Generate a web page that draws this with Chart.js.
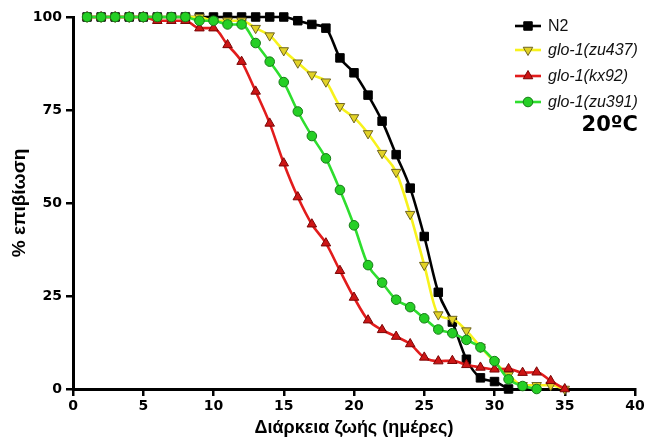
<!DOCTYPE html>
<html>
<head>
<meta charset="utf-8">
<script src="https://cdn.jsdelivr.net/npm/chart.js@4.4.1/dist/chart.umd.min.js"></script>
<style>
  html,body{margin:0;padding:0;background:#fff;}
  #wrap{width:647px;height:438px;position:relative;}
</style>
</head>
<body>
<div id="wrap"><canvas id="c" width="647" height="438"></canvas></div>
<script>
// ---- data (survival %, one value per day starting at day 1) ----
const seriesNames = ["N2", "glo-1(zu437)", "glo-1(kx92)", "glo-1(zu391)"];
const xTicks = [0, 5, 10, 15, 20, 25, 30, 35, 40];
const yTicks = [0, 25, 50, 75, 100];
const startDay = 1;
const n2 = [100,100,100,100,100,100,100,100,100,100,100,100,100,100,100,
            99,98,97,89,85,79,72,63,54,41,26,18,8,3,2,0];
const zu437 = [100,100,100,100,100,100,100,100,100,99,99,99,
               97,95,91,87.7,84.5,82.6,76,73,68.7,63.4,58.3,47,33.3,20,18.8,15.7,11.3,7.3,3.8,1,1,1,0];
const kx92 = [100,100,100,100,100,99,99,99,97,97,
              92.5,88,80,71.4,60.7,51.6,44.3,39.2,31.8,24.6,18.5,15.9,14.1,12.1,8.5,7.5,7.6,6.5,5.8,5.3,5.4,4.4,4.5,2.2,0];
const zu391 = [100,100,100,100,100,100,100,100,99,99,98,98,
               93,88,82.5,74.6,68,62,53.5,44,33.3,28.6,24,22,19,16,15,13.2,11.2,7.5,2.6,0.8,0];
const annotation = "20ºC";

function pts(arr){ return arr.map((v,i)=>({x: startDay + i, y: v})); }

const styles = [
  {line:'#000000', fill:'#000000', border:'#000000', shape:'rect', r:6, rot:0, order:3},
  {line:'#f7f21c', fill:'#e2d226', border:'#6e6420', shape:'triangle', r:5.5, rot:180, order:2},
  {line:'#e21c1c', fill:'#cc1515', border:'#7a0505', shape:'triangle', r:5.5, rot:0, order:1},
  {line:'#2ede2e', fill:'#25cf25', border:'#167a16', shape:'circle', r:4.8, rot:0, order:0}
];
const allData = [n2, zu437, kx92, zu391];

const datasets = allData.map((d,i)=>({
  label: seriesNames[i],
  data: pts(d),
  borderColor: styles[i].line,
  backgroundColor: styles[i].fill,
  borderWidth: 2.6,
  pointStyle: styles[i].shape,
  pointRadius: styles[i].r,
  pointRotation: styles[i].rot,
  pointBackgroundColor: styles[i].fill,
  pointBorderColor: styles[i].border,
  pointBorderWidth: 1,
  cubicInterpolationMode: 'monotone',
  order: styles[i].order,
  clip: false
}));

function drawMarker(ctx, st, x, y){
  ctx.save();
  ctx.fillStyle = st.fill; ctx.strokeStyle = st.border; ctx.lineWidth = 1;
  ctx.beginPath();
  if (st.shape === 'rect'){
    const s = Math.SQRT1_2 * st.r;
    ctx.rect(x - s, y - s, 2*s, 2*s);
  } else if (st.shape === 'circle'){
    ctx.arc(x, y, st.r, 0, Math.PI*2);
  } else {
    let rad = st.rot * Math.PI/180;
    ctx.moveTo(x + Math.sin(rad)*st.r, y - Math.cos(rad)*st.r);
    rad += 2*Math.PI/3;
    ctx.lineTo(x + Math.sin(rad)*st.r, y - Math.cos(rad)*st.r);
    rad += 2*Math.PI/3;
    ctx.lineTo(x + Math.sin(rad)*st.r, y - Math.cos(rad)*st.r);
    ctx.closePath();
  }
  ctx.fill(); ctx.stroke();
  ctx.restore();
}

const legendPlugin = {
  id: 'customLegend',
  afterDraw(chart){
    const ctx = chart.ctx;
    const ys = [26, 50, 76, 102];
    seriesNames.forEach((name, i) => {
      const st = styles[i];
      const y = ys[i];
      ctx.save();
      ctx.strokeStyle = st.line; ctx.lineWidth = 2.6;
      ctx.beginPath(); ctx.moveTo(515, y); ctx.lineTo(541, y); ctx.stroke();
      ctx.restore();
      drawMarker(ctx, st, 528, y);
      ctx.save();
      ctx.fillStyle = '#111';
      ctx.textBaseline = 'middle';
      ctx.font = (i === 0 ? '' : 'italic ') + '16px "Liberation Sans", Arial, sans-serif';
      ctx.fillText(name, 548, y + 1);
      ctx.restore();
    });
    ctx.save();
    ctx.fillStyle = '#000';
    ctx.textBaseline = 'middle';
    ctx.textAlign = 'right';
    ctx.font = 'bold 21px "DejaVu Sans", sans-serif';
    ctx.fillText(annotation, 638, 126);
    ctx.restore();
  }
};

const tickFont = {family: '"DejaVu Sans", sans-serif', size: 14, weight: 'bold'};
const xTitleFont = {family: '"Liberation Sans", Arial, sans-serif', size: 18, weight: 'bold'};
const yTitleFont = {family: '"Liberation Sans", Arial, sans-serif', size: 19, weight: 'bold'};

new Chart(document.getElementById('c'), {
  type: 'line',
  data: { datasets },
  options: {
    responsive: false,
    animation: false,
    events: [],
    layout: { padding: {top: 17, right: 12, left: 0, bottom: 0} },
    plugins: { legend: {display: false}, tooltip: {enabled: false} },
    scales: {
      x: {
        type: 'linear', min: 0, max: 40,
        afterBuildTicks(scale){ scale.ticks = xTicks.map(v=>({value:v})); },
        afterFit(scale){ scale.height = 49; },
        grid: {display: true, drawOnChartArea: false, drawTicks: true, tickLength: 7, lineWidth: 2.5, color: '#000'},
        border: {display: true, width: 3, color: '#000'},
        ticks: {color: '#000', font: tickFont, padding: 2, maxRotation: 0},
        title: {display: true, text: 'Διάρκεια ζωής (ημέρες)', color: '#000', font: xTitleFont, padding: {top: 0, bottom: -1}}
      },
      y: {
        type: 'linear', min: 0, max: 100,
        afterBuildTicks(scale){ scale.ticks = yTicks.map(v=>({value:v})); },
        afterFit(scale){ scale.width = 73; },
        grid: {display: true, drawOnChartArea: false, drawTicks: true, tickLength: 7, lineWidth: 2.5, color: '#000'},
        border: {display: true, width: 3, color: '#000'},
        ticks: {color: '#000', font: tickFont, padding: 4},
        title: {display: true, text: '% επιβίωση', color: '#000', font: yTitleFont, padding: {top: 8, bottom: 0}}
      }
    }
  },
  plugins: [legendPlugin]
});
</script>
</body>
</html>
